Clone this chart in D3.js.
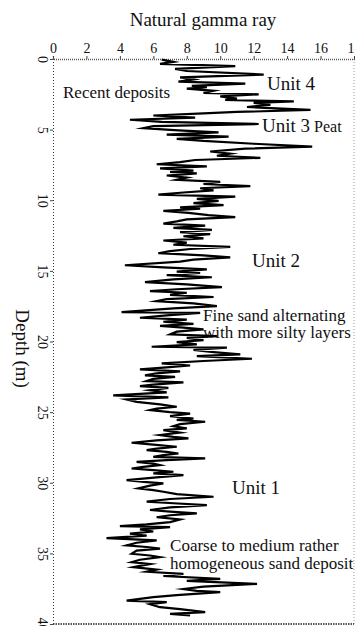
<!DOCTYPE html>
<html>
<head>
<meta charset="utf-8">
<script src="https://cdn.jsdelivr.net/npm/d3@7"></script>
<style>
  body { margin: 0; background: #fff; }
  svg { display: block; font-family: 'Liberation Serif', 'Times New Roman', serif; }
</style>
</head>
<body>
<svg id="chart" width="355" height="626"></svg>
<script>
// gamma ray log, depth in m
const depth = [
  0.05, 0.2, 0.35, 0.5, 0.7, 0.85, 1.1, 1.3, 1.45, 1.6, 1.75, 1.9, 2.0, 2.1, 2.25, 2.4, 2.5, 2.65, 2.8, 2.9,
  3.0, 3.1, 3.25, 3.4, 3.6, 3.75, 3.85, 4.0, 4.15, 4.3, 4.45, 4.6, 4.75, 4.9, 5.05, 5.2, 5.35, 5.5, 5.65, 5.8,
  6.0, 6.2, 6.35, 6.55, 6.7, 6.85, 7.0, 7.15, 7.3, 7.45, 7.6, 7.75, 7.9,
  8.0, 8.1, 8.25, 8.4, 8.55, 8.7, 8.85, 9.0, 9.15, 9.3, 9.45, 9.6, 9.75, 9.9, 10.05, 10.2, 10.35, 10.5, 10.6, 10.75,
  10.9, 11.05, 11.2, 11.35, 11.5, 11.65, 11.8, 11.95, 12.1, 12.25, 12.4, 12.55, 12.7, 12.85, 13.0, 13.15, 13.3, 13.45,
  13.6, 13.75, 13.9, 14.05, 14.2, 14.35, 14.6, 14.75, 14.9, 15.05, 15.15, 15.3, 15.45, 15.6, 15.8, 15.95, 16.15,
  16.3, 16.43, 16.55, 16.7, 16.85, 17.0, 17.14, 17.3, 17.49, 17.65, 17.92, 17.98, 18.15, 18.32, 18.45, 18.6, 18.75,
  18.9, 19.02, 19.14, 19.3, 19.5, 19.62, 19.75, 19.9, 20.05, 20.2, 20.37, 20.44, 20.6, 20.75, 20.91, 21.03, 21.22,
  21.38, 21.55, 21.7, 21.85, 21.98, 22.12, 22.25, 22.4, 22.5, 22.65, 22.8, 22.9, 23.05, 23.16, 23.28, 23.45, 23.6,
  23.82, 23.95, 24.1,
  24.27, 24.45, 24.62, 24.75, 24.86, 25.0, 25.1, 25.28, 25.45, 25.55, 25.68, 25.85, 26.0, 26.15, 26.27, 26.45, 26.62,
  26.75, 26.86, 27.0, 27.17, 27.3, 27.45, 27.58, 27.69, 27.82, 27.93, 28.05, 28.17, 28.28, 28.4, 28.52, 28.64, 28.75,
  28.88, 28.99, 29.1, 29.22, 29.34, 29.46, 29.62, 29.81, 29.95, 30.05, 30.2, 30.4, 30.52, 30.64, 30.8, 30.99, 31.15,
  31.34, 31.45, 31.58, 31.75, 31.93, 32.05, 32.17,
  32.3, 32.44, 32.6, 32.79, 32.95, 33.07, 33.14, 33.3, 33.45, 33.6, 33.75, 33.92, 34.08, 34.25, 34.44, 34.55, 34.67,
  34.8, 35.03, 35.15, 35.27, 35.45, 35.62, 35.75, 35.88, 35.98, 36.15, 36.3, 36.45, 36.6, 36.8, 36.95, 37.16, 37.35,
  37.52, 37.65, 37.75, 37.95, 38.1, 38.34, 38.45, 38.6, 38.81, 38.95, 39.16, 39.28, 39.4
]
const gammaRay = [
  6.5, 7.2, 6.4, 10.9, 7.3, 8.0, 12.6, 7.6, 8.4, 7.5, 11.5, 8.3, 9.2, 8.0, 9.6, 9.0, 12.3, 10.0, 11.0, 10.3,
  14.4, 12.0, 13.0, 11.6, 15.4, 11.0, 9.0, 6.0, 8.5, 4.6, 6.5, 12.3, 6.0, 5.4, 7.5, 9.9, 6.8, 10.5, 7.4, 9.0,
  12.0, 15.5, 11.5, 9.4, 10.6, 9.8, 12.4, 8.5, 7.6, 6.2, 9.2, 6.4, 8.4,
  7.0, 8.6, 6.8, 8.0, 7.4, 10.0, 9.0, 11.8, 8.8, 9.6, 7.8, 6.3, 10.9, 8.6, 9.9, 8.4, 10.2, 7.6, 8.8, 6.6,
  8.1, 9.3, 10.9, 8.0, 7.4, 6.6, 9.1, 7.2, 9.5, 7.6, 9.4, 7.8, 9.0, 6.6, 8.0, 7.2, 10.6, 8.2,
  7.0, 6.3, 9.0, 10.6, 8.4, 7.6, 4.3, 6.6, 9.2, 7.4, 8.8, 6.8, 9.5, 7.2, 5.5, 8.0, 10.1,
  7.4, 5.8, 8.0, 7.0, 9.6, 6.8, 6.2, 8.4, 9.8, 7.2, 4.1, 8.8, 6.8, 5.2, 8.0, 6.6, 8.4,
  6.4, 7.8, 9.0, 7.4, 7.0, 9.8, 8.0, 9.0, 7.4, 8.6, 5.9, 10.4, 8.4, 9.6, 11.2, 8.6, 11.9,
  9.0, 6.5, 8.2, 6.6, 5.2, 7.6, 6.2, 5.5, 7.3, 6.0, 5.6, 7.8, 6.0, 5.2, 6.9, 5.8, 6.8,
  3.6, 6.9, 4.4,
  5.0, 6.4, 7.4, 6.2, 5.8, 7.0, 8.2, 7.0, 8.4, 7.4, 9.1, 7.6, 7.2, 8.0, 6.6, 7.6, 6.4,
  7.2, 8.1, 6.2, 4.7, 6.0, 7.4, 6.2, 5.6, 6.8, 7.5, 6.6, 6.0, 9.1, 6.8, 5.0, 6.0, 6.4,
  5.4, 4.7, 6.0, 7.2, 6.0, 7.8, 6.2, 4.4, 5.6, 6.6, 5.8, 5.1, 6.0, 6.6, 7.4, 9.6, 7.0,
  5.6, 7.2, 9.2, 7.0, 5.8, 7.0, 8.6,
  7.0, 6.2, 7.6, 7.0, 5.6, 4.0, 7.0, 5.2, 6.0, 4.6, 5.6, 3.2, 6.2, 5.0, 4.4, 5.6, 6.4,
  5.0, 4.7, 5.8, 6.4, 5.2, 4.7, 5.8, 5.2, 4.8, 6.2, 5.6, 7.8, 6.6, 10.0, 8.0, 12.2, 9.0,
  7.8, 8.6, 10.0, 7.4, 6.0, 4.4, 6.8, 5.8, 6.4, 7.6, 9.1, 7.0, 8.2
]
const xTicks = [0, 2, 4, 6, 8, 10, 12, 14, 16, 18]
const yTicks = [0, 5, 10, 15, 20, 25, 30, 35, 40]

// text notes placed in chart units (value, depth)
const annotations = [
  { text: 'Recent deposits', value: 0.6, depth: 2.34, kind: 'note' },
  { text: 'Unit 4', value: 12.8, depth: 1.7, kind: 'unit' },
  { text: 'Unit 3', extra: 'Peat', value: 12.5, depth: 4.67, kind: 'unit' },
  { text: 'Unit 2', value: 11.9, depth: 14.23, kind: 'unit' },
  { text: 'Fine sand alternating', value: 8.97, depth: 18.12, kind: 'note' },
  { text: 'with more silty layers', value: 8.97, depth: 19.33, kind: 'note' },
  { text: 'Unit 1', value: 10.7, depth: 30.3, kind: 'unit' },
  { text: 'Coarse to medium rather', value: 7.0, depth: 34.4, kind: 'note' },
  { text: 'homogeneous sand deposit', value: 7.0, depth: 35.68, kind: 'note' }
]

const svg = d3.select('#chart')
const margin = { top: 59, right: 1, bottom: 2, left: 53 }
const width = 355 - margin.left - margin.right
const height = 626 - margin.top - margin.bottom

const x = d3.scaleLinear().domain([0, 18]).range([margin.left, margin.left + width])
const y = d3.scaleLinear().domain([0, 40]).range([margin.top, margin.top + height])

svg.append('text')
  .attr('x', 203)
  .attr('y', 26)
  .attr('text-anchor', 'middle')
  .attr('font-size', 19)
  .attr('fill', '#111')
  .text('Natural gamma ray')

// frame, dotted like the scan
const frame = svg.append('g').attr('fill', 'none')
frame.append('line')
  .attr('x1', x(18)).attr('x2', x(18)).attr('y1', y(0)).attr('y2', y(40))
  .attr('stroke', '#999').attr('stroke-dasharray', '1,2')
frame.append('line')
  .attr('x1', x(0)).attr('x2', x(18)).attr('y1', y(40)).attr('y2', y(40))
  .attr('stroke', '#222').attr('stroke-width', 1.3).attr('stroke-dasharray', '1.5,1')

const xAxis = svg.append('g')
  .attr('transform', `translate(0,${margin.top})`)
  .call(d3.axisTop(x).tickValues(xTicks).tickSize(3).tickPadding(3))
xAxis.select('.domain').attr('stroke', '#555').attr('stroke-width', 1.4).attr('stroke-dasharray', '1,1')
xAxis.selectAll('.tick line').attr('stroke', '#444')
xAxis.selectAll('.tick text')
  .attr('font-family', 'Liberation Serif, serif')
  .attr('font-size', 14)
  .attr('fill', '#111')

const yAxis = svg.append('g')
  .attr('transform', `translate(${margin.left},0)`)
  .call(d3.axisLeft(y).tickValues(yTicks).tickSize(3))
yAxis.select('.domain').attr('stroke', '#333').attr('stroke-dasharray', '1,2')
yAxis.selectAll('.tick line').attr('stroke', '#444')
yAxis.selectAll('.tick text')
  .attr('x', 0)
  .attr('dy', 0)
  .attr('text-anchor', 'middle')
  .attr('transform', 'translate(-15,0) rotate(90)')
  .attr('font-family', 'Liberation Serif, serif')
  .attr('font-size', 14)
  .attr('fill', '#111')

svg.append('text')
  .attr('transform', `translate(16,${(y(20) + y(21)) / 2}) rotate(90)`)
  .attr('text-anchor', 'middle')
  .attr('font-size', 19)
  .attr('fill', '#111')
  .text('Depth (m)')

const notes = svg.append('g')
  .selectAll('text')
  .data(annotations)
  .join('text')
  .attr('x', d => x(d.value))
  .attr('y', d => y(d.depth))
  .attr('dy', '0.35em')
  .attr('font-size', d => d.kind === 'unit' ? 19 : 17)
  .attr('fill', '#111')
  .text(d => d.text)
notes.filter(d => d.extra)
  .append('tspan')
  .attr('font-size', 16)
  .text(d => ' ' + d.extra)

const points = depth.map((d, i) => [gammaRay[i], d])
const line = d3.line()
  .x(d => x(d[0]))
  .y(d => y(d[1]))

svg.append('path')
  .datum(points)
  .attr('fill', 'none')
  .attr('stroke', '#000')
  .attr('stroke-width', 2.2)
  .attr('stroke-linejoin', 'miter')
  .attr('stroke-miterlimit', 8)
  .attr('d', line)
</script>
</body>
</html>
